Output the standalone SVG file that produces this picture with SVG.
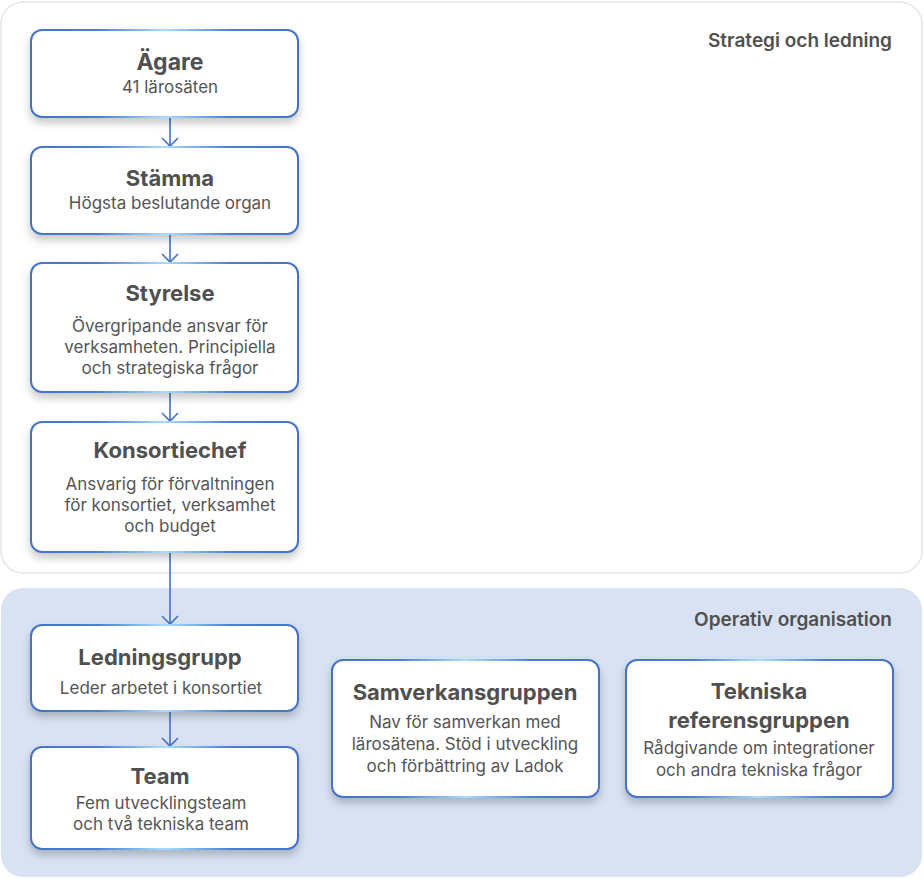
<svg xmlns="http://www.w3.org/2000/svg" width="924" height="879" viewBox="0 0 924 879">
<defs>
<linearGradient id="edge" x1="0" y1="0" x2="1" y2="0">
<stop offset="0" stop-color="#4472c4"/>
<stop offset="0.25" stop-color="#4a80d0"/>
<stop offset="0.5" stop-color="#a9dcff"/>
<stop offset="0.75" stop-color="#4a80d0"/>
<stop offset="1" stop-color="#4472c4"/>
</linearGradient>
<filter id="sh" x="-10%" y="-10%" width="120%" height="140%">
<feDropShadow dx="0" dy="5" stdDeviation="4" flood-color="#000" flood-opacity="0.22"/>
</filter>
</defs>
<style>
.box{fill:#fff;stroke:url(#edge);stroke-width:2;filter:url(#sh)}
.t{font-family:Inter,"Noto Sans","DejaVu Sans",sans-serif;font-weight:700;font-size:22px;fill:#505050;text-anchor:middle}
.s{font-family:Inter,"Noto Sans","DejaVu Sans",sans-serif;font-size:17px;fill:#555;text-anchor:middle}
.lab{font-family:Inter,"Noto Sans","DejaVu Sans",sans-serif;font-weight:600;font-size:19px;fill:#505050;text-anchor:end}
.c{fill:none;stroke:#4472c4;stroke-width:1.6}
</style>
<g id="sections">
<rect x="1" y="2" width="921" height="571" rx="22" fill="#fff" stroke="#e6e6e6" stroke-width="1.5"/>
<rect x="1" y="588" width="921" height="289" rx="22" fill="#d9e2f3"/>
<text class="lab" x="892" y="47">Strategi och ledning</text>
<text class="lab" x="892" y="626">Operativ organisation</text>
</g>
<g id="connectors">
<path class="c" d="M170,118 V146"/>
<path class="c" d="M170,235 V262"/>
<path class="c" d="M170,393 V421"/>
<path class="c" d="M170,553 V624"/>
<path class="c" d="M170,712 V746"/>
<path class="c" d="M162,138 L170,146 L178,138"/>
<path class="c" d="M162,254 L170,262 L178,254"/>
<path class="c" d="M162,413 L170,421 L178,413"/>
<path class="c" d="M162,616 L170,624 L178,616"/>
<path class="c" d="M162,738 L170,746 L178,738"/>
</g>
<g id="agare">
<rect class="box" x="31" y="30" width="267" height="87" rx="11"/>
<text class="t" x="170" y="70" style="font-size:23px">Ägare</text>
<text class="s" x="170" y="93">41 lärosäten</text>
</g>
<g id="stamma">
<rect class="box" x="31" y="147" width="267" height="87" rx="11"/>
<text class="t" x="170" y="186">Stämma</text>
<text class="s" x="170" y="209">Högsta beslutande organ</text>
</g>
<g id="styrelse">
<rect class="box" x="31" y="263" width="267" height="129" rx="11"/>
<text class="t" x="170" y="301">Styrelse</text>
<text class="s" x="170" y="332">Övergripande ansvar för</text>
<text class="s" x="170" y="353">verksamheten. Principiella</text>
<text class="s" x="170" y="374">och strategiska frågor</text>
</g>
<g id="konsortiechef">
<rect class="box" x="31" y="422" width="267" height="130" rx="11"/>
<text class="t" x="170" y="458">Konsortiechef</text>
<text class="s" x="170" y="490">Ansvarig för förvaltningen</text>
<text class="s" x="170" y="511">för konsortiet, verksamhet</text>
<text class="s" x="170" y="532">och budget</text>
</g>
<g id="ledningsgrupp">
<rect class="box" x="31" y="625" width="267" height="86" rx="11"/>
<text class="t" x="160" y="665">Ledningsgrupp</text>
<text class="s" x="161" y="694">Leder arbetet i konsortiet</text>
</g>
<g id="team">
<rect class="box" x="31" y="747" width="267" height="102" rx="11"/>
<text class="t" x="160" y="784">Team</text>
<text class="s" x="161" y="809">Fem utvecklingsteam</text>
<text class="s" x="161" y="830">och två tekniska team</text>
</g>
<g id="samverkansgruppen">
<rect class="box" x="332" y="660" width="267" height="137" rx="11"/>
<text class="t" x="465" y="700">Samverkansgruppen</text>
<text class="s" x="465" y="728">Nav för samverkan med</text>
<text class="s" x="465" y="750">lärosätena. Stöd i utveckling</text>
<text class="s" x="465" y="772">och förbättring av Ladok</text>
</g>
<g id="tekniska">
<rect class="box" x="626" y="660" width="267" height="137" rx="11"/>
<text class="t" x="759" y="699">Tekniska</text>
<text class="t" x="759" y="728">referensgruppen</text>
<text class="s" x="759" y="754">Rådgivande om integrationer</text>
<text class="s" x="759" y="776">och andra tekniska frågor</text>
</g>
</svg>
